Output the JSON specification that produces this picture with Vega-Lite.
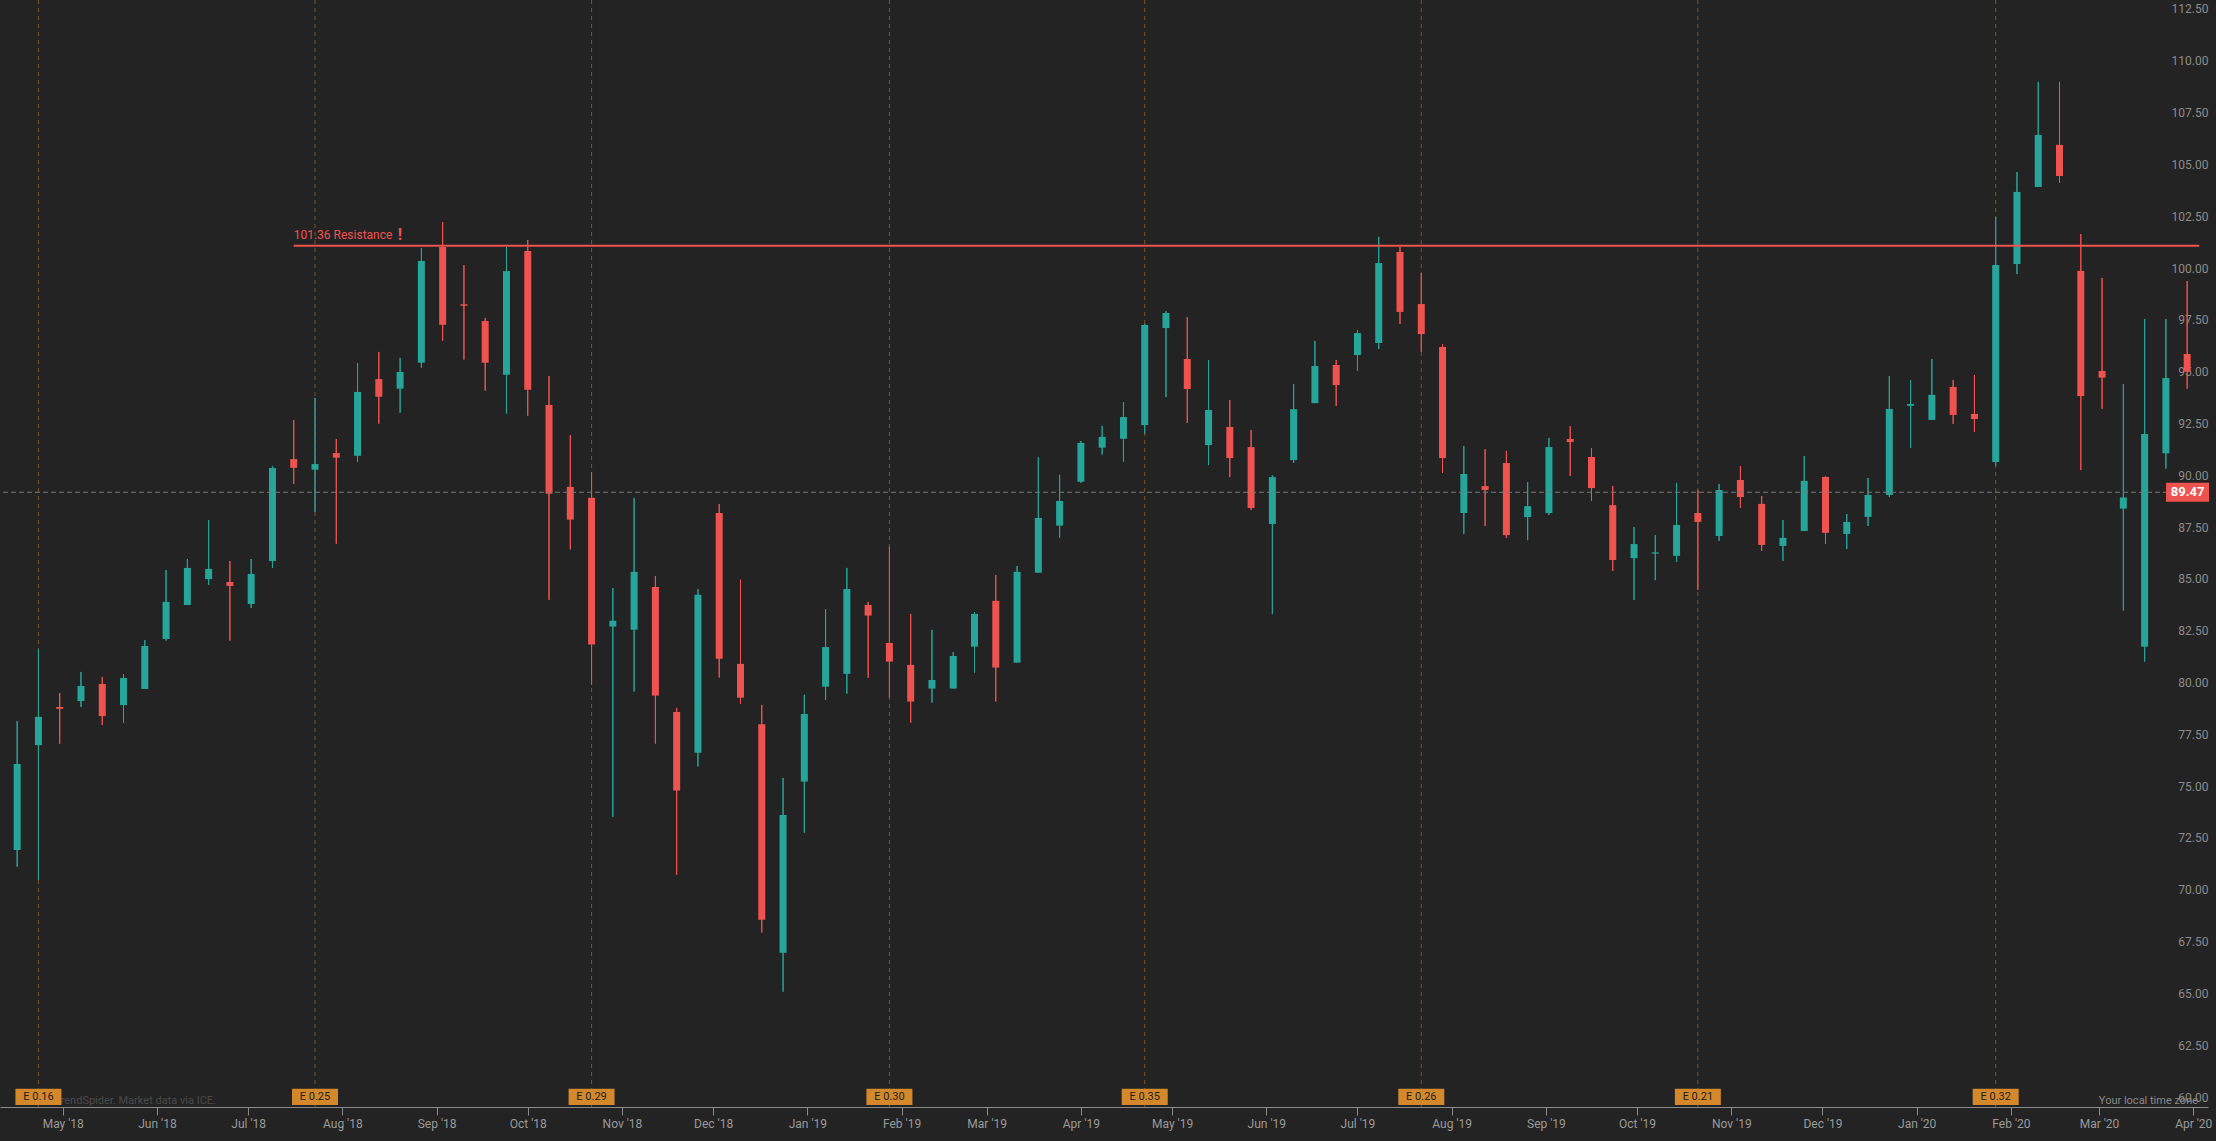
{
  "$schema": "https://vega.github.io/schema/vega-lite/v6.json",
  "width": 2208,
  "height": 1107,
  "autosize": {"type": "none"},
  "padding": {"left": 0, "top": 0, "right": 8, "bottom": 34},
  "background": "#232323",
  "datasets": {
    "candles": [
      {"date": "2018-04-16", "open": 72.21, "high": 78.43, "low": 71.40, "close": 76.36},
      {"date": "2018-04-23", "open": 77.27, "high": 81.91, "low": 70.76, "close": 78.63},
      {"date": "2018-04-30", "open": 79.11, "high": 79.78, "low": 77.34, "close": 79.02},
      {"date": "2018-05-07", "open": 79.40, "high": 80.80, "low": 79.11, "close": 80.12},
      {"date": "2018-05-14", "open": 80.22, "high": 80.56, "low": 78.24, "close": 78.67},
      {"date": "2018-05-21", "open": 79.20, "high": 80.70, "low": 78.34, "close": 80.51},
      {"date": "2018-05-28", "open": 79.98, "high": 82.34, "low": 79.98, "close": 82.05},
      {"date": "2018-06-04", "open": 82.39, "high": 85.72, "low": 82.31, "close": 84.18},
      {"date": "2018-06-11", "open": 84.03, "high": 86.25, "low": 84.03, "close": 85.82},
      {"date": "2018-06-18", "open": 85.28, "high": 88.13, "low": 85.00, "close": 85.77},
      {"date": "2018-06-25", "open": 85.14, "high": 86.15, "low": 82.31, "close": 84.95},
      {"date": "2018-07-02", "open": 84.08, "high": 86.25, "low": 83.89, "close": 85.53},
      {"date": "2018-07-09", "open": 86.15, "high": 90.74, "low": 85.82, "close": 90.64},
      {"date": "2018-07-16", "open": 91.07, "high": 92.95, "low": 89.87, "close": 90.65},
      {"date": "2018-07-23", "open": 90.56, "high": 94.02, "low": 88.51, "close": 90.83},
      {"date": "2018-07-30", "open": 91.36, "high": 92.04, "low": 86.99, "close": 91.14},
      {"date": "2018-08-06", "open": 91.23, "high": 95.70, "low": 90.94, "close": 94.31},
      {"date": "2018-08-13", "open": 94.93, "high": 96.24, "low": 92.78, "close": 94.08},
      {"date": "2018-08-20", "open": 94.47, "high": 95.95, "low": 93.31, "close": 95.27},
      {"date": "2018-08-27", "open": 95.72, "high": 101.25, "low": 95.48, "close": 100.63},
      {"date": "2018-09-03", "open": 101.30, "high": 102.51, "low": 96.78, "close": 97.55},
      {"date": "2018-09-10", "open": 98.54, "high": 100.43, "low": 95.87, "close": 98.47},
      {"date": "2018-09-17", "open": 97.73, "high": 97.88, "low": 94.37, "close": 95.72},
      {"date": "2018-09-24", "open": 95.14, "high": 101.30, "low": 93.26, "close": 100.14},
      {"date": "2018-10-01", "open": 101.11, "high": 101.64, "low": 93.16, "close": 94.42},
      {"date": "2018-10-08", "open": 93.68, "high": 95.08, "low": 84.28, "close": 89.40},
      {"date": "2018-10-15", "open": 89.73, "high": 92.23, "low": 86.71, "close": 88.15},
      {"date": "2018-10-22", "open": 89.20, "high": 90.45, "low": 80.18, "close": 82.12},
      {"date": "2018-10-29", "open": 82.99, "high": 84.85, "low": 73.81, "close": 83.27},
      {"date": "2018-11-05", "open": 82.84, "high": 89.20, "low": 79.85, "close": 85.63},
      {"date": "2018-11-12", "open": 84.90, "high": 85.43, "low": 77.34, "close": 79.66},
      {"date": "2018-11-19", "open": 78.87, "high": 79.07, "low": 71.02, "close": 75.08},
      {"date": "2018-11-26", "open": 76.90, "high": 84.80, "low": 76.24, "close": 84.52},
      {"date": "2018-12-03", "open": 88.47, "high": 88.90, "low": 80.53, "close": 81.44},
      {"date": "2018-12-10", "open": 81.19, "high": 85.25, "low": 79.26, "close": 79.56},
      {"date": "2018-12-17", "open": 78.28, "high": 79.21, "low": 68.23, "close": 68.85},
      {"date": "2018-12-24", "open": 67.25, "high": 75.69, "low": 65.37, "close": 73.90},
      {"date": "2018-12-31", "open": 75.51, "high": 79.70, "low": 73.05, "close": 78.77},
      {"date": "2019-01-07", "open": 80.09, "high": 83.83, "low": 79.45, "close": 82.00},
      {"date": "2019-01-14", "open": 80.71, "high": 85.82, "low": 79.75, "close": 84.80},
      {"date": "2019-01-21", "open": 84.03, "high": 84.18, "low": 80.52, "close": 83.52},
      {"date": "2019-01-28", "open": 82.20, "high": 86.85, "low": 79.56, "close": 81.30},
      {"date": "2019-02-04", "open": 81.14, "high": 83.60, "low": 78.35, "close": 79.37},
      {"date": "2019-02-11", "open": 80.00, "high": 82.83, "low": 79.32, "close": 80.41},
      {"date": "2019-02-18", "open": 80.00, "high": 81.76, "low": 80.00, "close": 81.57},
      {"date": "2019-02-25", "open": 82.02, "high": 83.69, "low": 80.77, "close": 83.60},
      {"date": "2019-03-04", "open": 84.23, "high": 85.48, "low": 79.37, "close": 81.01},
      {"date": "2019-03-11", "open": 81.25, "high": 85.91, "low": 81.25, "close": 85.63},
      {"date": "2019-03-18", "open": 85.59, "high": 91.17, "low": 85.59, "close": 88.23},
      {"date": "2019-03-25", "open": 87.86, "high": 90.31, "low": 87.28, "close": 89.05},
      {"date": "2019-04-01", "open": 89.98, "high": 91.94, "low": 89.92, "close": 91.85},
      {"date": "2019-04-08", "open": 91.62, "high": 92.67, "low": 91.29, "close": 92.14},
      {"date": "2019-04-15", "open": 92.05, "high": 93.82, "low": 90.94, "close": 93.10},
      {"date": "2019-04-22", "open": 92.71, "high": 97.60, "low": 92.28, "close": 97.54},
      {"date": "2019-04-29", "open": 97.39, "high": 98.21, "low": 94.06, "close": 98.12},
      {"date": "2019-05-06", "open": 95.90, "high": 97.92, "low": 92.81, "close": 94.45},
      {"date": "2019-05-13", "open": 91.75, "high": 95.85, "low": 90.78, "close": 93.44},
      {"date": "2019-05-20", "open": 92.62, "high": 93.92, "low": 90.20, "close": 91.12},
      {"date": "2019-05-27", "open": 91.65, "high": 92.47, "low": 88.61, "close": 88.71},
      {"date": "2019-06-03", "open": 87.94, "high": 90.30, "low": 83.59, "close": 90.20},
      {"date": "2019-06-10", "open": 91.02, "high": 94.69, "low": 90.88, "close": 93.48},
      {"date": "2019-06-17", "open": 93.77, "high": 96.77, "low": 93.77, "close": 95.56},
      {"date": "2019-06-24", "open": 95.61, "high": 95.85, "low": 93.63, "close": 94.64},
      {"date": "2019-07-01", "open": 96.09, "high": 97.30, "low": 95.32, "close": 97.15},
      {"date": "2019-07-08", "open": 96.67, "high": 101.79, "low": 96.38, "close": 100.53},
      {"date": "2019-07-15", "open": 101.06, "high": 101.30, "low": 97.59, "close": 98.17},
      {"date": "2019-07-22", "open": 98.55, "high": 100.05, "low": 96.24, "close": 97.10},
      {"date": "2019-07-29", "open": 96.48, "high": 96.62, "low": 90.40, "close": 91.12},
      {"date": "2019-08-05", "open": 88.47, "high": 91.70, "low": 87.45, "close": 90.35},
      {"date": "2019-08-12", "open": 89.77, "high": 91.55, "low": 87.84, "close": 89.58},
      {"date": "2019-08-19", "open": 90.88, "high": 91.46, "low": 87.26, "close": 87.40},
      {"date": "2019-08-26", "open": 88.27, "high": 89.96, "low": 87.16, "close": 88.80},
      {"date": "2019-09-02", "open": 88.47, "high": 92.09, "low": 88.37, "close": 91.65},
      {"date": "2019-09-09", "open": 92.04, "high": 92.66, "low": 90.25, "close": 91.89},
      {"date": "2019-09-16", "open": 91.17, "high": 91.60, "low": 89.05, "close": 89.67},
      {"date": "2019-09-23", "open": 88.85, "high": 89.77, "low": 85.67, "close": 86.20},
      {"date": "2019-09-30", "open": 86.29, "high": 87.79, "low": 84.27, "close": 86.97},
      {"date": "2019-10-07", "open": 86.51, "high": 87.40, "low": 85.23, "close": 86.57},
      {"date": "2019-10-14", "open": 86.40, "high": 89.92, "low": 86.11, "close": 87.89},
      {"date": "2019-10-21", "open": 88.47, "high": 89.58, "low": 84.76, "close": 88.04},
      {"date": "2019-10-28", "open": 87.36, "high": 89.87, "low": 87.12, "close": 89.58},
      {"date": "2019-11-04", "open": 90.06, "high": 90.74, "low": 88.71, "close": 89.24},
      {"date": "2019-11-11", "open": 88.91, "high": 89.29, "low": 86.64, "close": 86.93},
      {"date": "2019-11-18", "open": 86.88, "high": 88.13, "low": 86.16, "close": 87.27},
      {"date": "2019-11-25", "open": 87.60, "high": 91.22, "low": 87.60, "close": 90.02},
      {"date": "2019-12-02", "open": 90.21, "high": 90.26, "low": 86.98, "close": 87.51},
      {"date": "2019-12-09", "open": 87.46, "high": 88.42, "low": 86.73, "close": 88.04},
      {"date": "2019-12-16", "open": 88.28, "high": 90.16, "low": 87.84, "close": 89.34},
      {"date": "2019-12-23", "open": 89.34, "high": 95.08, "low": 89.24, "close": 93.49},
      {"date": "2019-12-30", "open": 93.64, "high": 94.89, "low": 91.61, "close": 93.73},
      {"date": "2020-01-06", "open": 92.96, "high": 95.90, "low": 92.96, "close": 94.17},
      {"date": "2020-01-13", "open": 94.55, "high": 94.89, "low": 92.77, "close": 93.20},
      {"date": "2020-01-20", "open": 93.25, "high": 95.13, "low": 92.38, "close": 93.00},
      {"date": "2020-01-27", "open": 90.93, "high": 102.75, "low": 90.74, "close": 100.44},
      {"date": "2020-02-03", "open": 100.48, "high": 104.92, "low": 100.00, "close": 103.96},
      {"date": "2020-02-10", "open": 104.20, "high": 109.27, "low": 104.20, "close": 106.71},
      {"date": "2020-02-17", "open": 106.23, "high": 109.27, "low": 104.39, "close": 104.73},
      {"date": "2020-02-24", "open": 100.15, "high": 101.93, "low": 90.54, "close": 94.11},
      {"date": "2020-03-02", "open": 95.32, "high": 99.81, "low": 93.50, "close": 95.00},
      {"date": "2020-03-09", "open": 88.68, "high": 94.69, "low": 83.76, "close": 89.22},
      {"date": "2020-03-16", "open": 82.02, "high": 97.83, "low": 81.30, "close": 92.28},
      {"date": "2020-03-23", "open": 91.35, "high": 97.83, "low": 90.61, "close": 94.98},
      {"date": "2020-03-30", "open": 96.14, "high": 99.66, "low": 94.47, "close": 95.29}
    ],
    "earnings": [
      {"date": "2018-04-23", "eps": 0.16},
      {"date": "2018-07-23", "eps": 0.25},
      {"date": "2018-10-22", "eps": 0.29},
      {"date": "2019-01-28", "eps": 0.30},
      {"date": "2019-04-22", "eps": 0.35},
      {"date": "2019-07-22", "eps": 0.26},
      {"date": "2019-10-21", "eps": 0.21},
      {"date": "2020-01-27", "eps": 0.32}
    ],
    "resistance": [
      {"start": "2018-07-16", "end": "2020-04-03", "price": 101.36, "label": "101.36 Resistance"}
    ],
    "lastPrice": [
      {"price": 89.47}
    ]
  },
  "layer": [
    {
      "data": {"name": "candles"},
      "mark": {"type": "rule", "strokeWidth": 1},
      "encoding": {
        "x": {
          "field": "date", "type": "temporal", "title": null,
          "scale": {"type": "utc", "domain": [{"year": 2018, "month": 4, "date": 12, "utc": true}, {"year": 2020, "month": 4, "date": 4, "hours": 5, "utc": true}]},
          "axis": {
            "title": null, "format": "%b '%y",
            "tickCount": {"interval": "month", "step": 1},
            "grid": false, "labelOverlap": false, "labelFlush": false,
            "labelFont": "Roboto", "labelFontSize": 12, "labelColor": "#9a9a9a",
            "labelPadding": 3, "tickSize": 8, "tickColor": "#8a8a8a", "domainColor": "#8a8a8a"
          }
        },
        "y": {
          "field": "low", "type": "quantitative", "title": null,
          "scale": {"domain": [59.81, 113.22], "nice": false, "zero": false},
          "axis": {
            "title": null, "orient": "right",
            "values": [60, 62.5, 65, 67.5, 70, 72.5, 75, 77.5, 80, 82.5, 85, 87.5, 90, 92.5, 95, 97.5, 100, 102.5, 105, 107.5, 110, 112.5],
            "format": ".2f", "grid": false, "domain": false, "ticks": false, "tickSize": 0,
            "labelAlign": "right", "labelPadding": 0, "labelBaseline": "middle", "labelOffset": -6,
            "labelOverlap": false, "labelFlush": false,
            "labelFont": "Roboto", "labelFontSize": 12, "labelColor": "#8c8c8c"
          }
        },
        "y2": {"field": "high"},
        "color": {"condition": {"test": "datum.close >= datum.open", "value": "#26a69a"}, "value": "#ef5350"}
      }
    },
    {
      "data": {"name": "earnings"},
      "mark": {"type": "rule", "stroke": "#7a5527", "strokeDash": [4, 4], "strokeWidth": 1},
      "encoding": {
        "x": {"field": "date", "type": "temporal", "title": null}
      }
    },
    {
      "data": {"name": "candles"},
      "mark": {"type": "rule", "strokeWidth": 1},
      "encoding": {
        "x": {"field": "date", "type": "temporal", "title": null},
        "y": {"field": "low", "type": "quantitative", "title": null},
        "y2": {"field": "high"},
        "color": {"condition": {"test": "datum.close >= datum.open", "value": "#26a69a"}, "value": "#ef5350"}
      }
    },
    {
      "data": {"name": "candles"},
      "mark": {"type": "bar", "width": 7},
      "encoding": {
        "x": {"field": "date", "type": "temporal", "title": null},
        "y": {"field": "open", "type": "quantitative", "title": null},
        "y2": {"field": "close"},
        "color": {"condition": {"test": "datum.close >= datum.open", "value": "#26a69a"}, "value": "#ef5350"}
      }
    },
    {
      "data": {"name": "lastPrice"},
      "mark": {"type": "rule", "stroke": "#7a7a7a", "strokeDash": [5, 3], "strokeWidth": 1},
      "encoding": {
        "y": {"field": "price", "type": "quantitative", "title": null}
      }
    },
    {
      "data": {"name": "resistance"},
      "mark": {"type": "rule", "stroke": "#ef5350", "strokeWidth": 2},
      "encoding": {
        "x": {"field": "start", "type": "temporal", "title": null},
        "x2": {"field": "end"},
        "y": {"field": "price", "type": "quantitative", "title": null}
      }
    },
    {
      "data": {"name": "resistance"},
      "mark": {"type": "text", "align": "left", "baseline": "bottom", "dy": -4, "font": "Roboto", "fontSize": 12, "color": "#ef5350"},
      "encoding": {
        "x": {"field": "start", "type": "temporal", "title": null},
        "y": {"field": "price", "type": "quantitative", "title": null},
        "text": {"field": "label"}
      }
    },
    {
      "data": {"name": "resistance"},
      "mark": {"type": "text", "align": "left", "baseline": "bottom", "dy": -3, "dx": 104, "font": "Roboto", "fontSize": 16, "fontWeight": "bold", "color": "#ef5350", "text": "!"},
      "encoding": {
        "x": {"field": "start", "type": "temporal", "title": null},
        "y": {"field": "price", "type": "quantitative", "title": null}
      }
    },
    {
      "data": {"values": [{"note": "© 2020 TrendSpider. Market data via ICE."}]},
      "mark": {"type": "text", "align": "left", "baseline": "middle", "font": "Roboto", "fontSize": 11, "color": "#4a4a4a"},
      "encoding": {
        "x": {"datum": {"year": 2018, "month": 4, "date": 15, "hours": 14, "utc": true}, "type": "temporal", "title": null},
        "y": {"datum": 60.1, "type": "quantitative", "title": null},
        "text": {"field": "note"}
      }
    },
    {
      "data": {"values": [{"note": "Your local time zone"}]},
      "mark": {"type": "text", "align": "right", "baseline": "middle", "font": "Roboto", "fontSize": 11, "color": "#8a8a8a"},
      "encoding": {
        "x": {"datum": {"year": 2020, "month": 4, "date": 2, "hours": 14, "utc": true}, "type": "temporal", "title": null},
        "y": {"datum": 60.1, "type": "quantitative", "title": null},
        "text": {"field": "note"}
      }
    },
    {
      "data": {"name": "earnings"},
      "transform": [{"calculate": "'E ' + format(datum.eps, '.2f')", "as": "label"}],
      "mark": {"type": "point", "filled": true, "opacity": 1, "shape": "M-1,-0.35L1,-0.35L1,0.35L-1,0.35Z", "size": 2116, "color": "#d4882c", "strokeWidth": 0},
      "encoding": {
        "x": {"field": "date", "type": "temporal", "title": null},
        "y": {"datum": 60.3, "type": "quantitative", "title": null}
      }
    },
    {
      "data": {"name": "earnings"},
      "transform": [{"calculate": "'E ' + format(datum.eps, '.2f')", "as": "label"}],
      "mark": {"type": "text", "align": "center", "baseline": "middle", "font": "Roboto", "fontSize": 11, "color": "#222222"},
      "encoding": {
        "x": {"field": "date", "type": "temporal", "title": null},
        "y": {"datum": 60.3, "type": "quantitative", "title": null},
        "text": {"field": "label"}
      }
    },
    {
      "data": {"name": "lastPrice"},
      "mark": {"type": "point", "filled": true, "opacity": 1, "shape": "M-1,-0.44L1,-0.44L1,0.44L-1,0.44Z", "size": 1849, "color": "#ef5350", "strokeWidth": 0},
      "encoding": {
        "x": {"datum": {"year": 2020, "month": 3, "date": 30, "hours": 3, "utc": true}, "type": "temporal", "title": null},
        "y": {"field": "price", "type": "quantitative", "title": null}
      }
    },
    {
      "data": {"name": "lastPrice"},
      "mark": {"type": "text", "align": "center", "baseline": "middle", "font": "Roboto", "fontSize": 13, "fontWeight": "bold", "color": "#ffffff"},
      "encoding": {
        "x": {"datum": {"year": 2020, "month": 3, "date": 30, "hours": 3, "utc": true}, "type": "temporal", "title": null},
        "y": {"field": "price", "type": "quantitative", "title": null},
        "text": {"field": "price", "type": "quantitative", "format": ".2f"}
      }
    }
  ],
  "config": {
    "view": {"stroke": null},
    "font": "Roboto"
  }
}
